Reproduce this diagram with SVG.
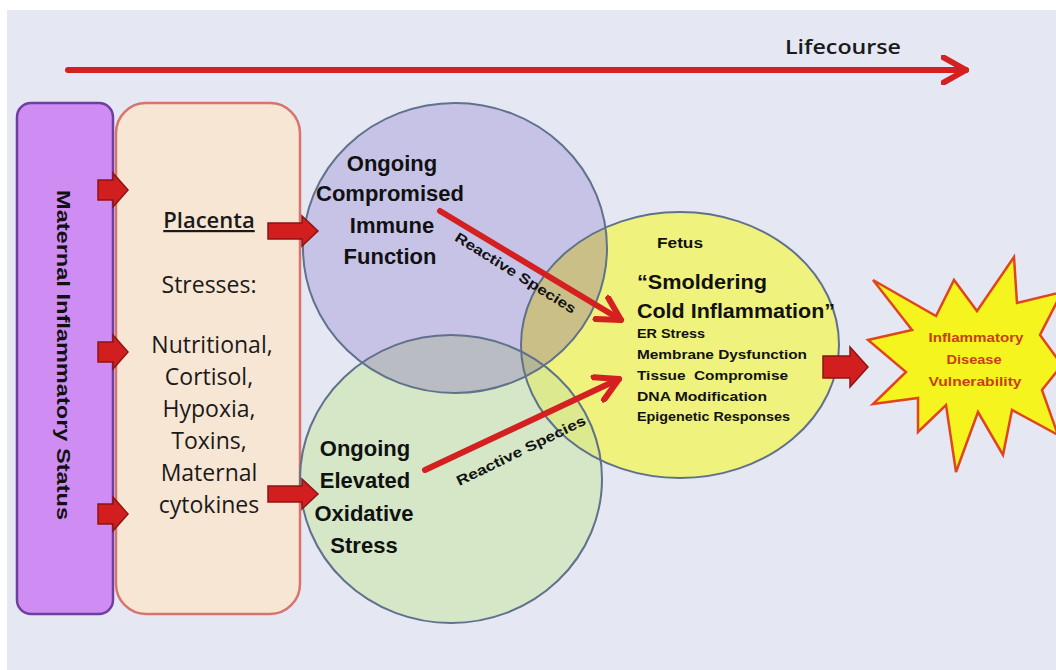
<svg xmlns="http://www.w3.org/2000/svg" width="1056" height="670" viewBox="0 0 1056 670">
<style>
.t{font-family:"Open Sans","Liberation Sans",sans-serif;fill:#1a1a1a}
.b{font-family:"Liberation Sans","Open Sans",sans-serif;font-weight:bold;fill:#111}
.blk{fill:#d21e1e;stroke:#8c1515;stroke-width:1.5}
.ring{fill:none;stroke:#60718c;stroke-width:2}
.red{stroke:#d42020;stroke-width:6;fill:none;stroke-linecap:round}
.star{font-family:"Liberation Sans",sans-serif;font-weight:bold;fill:#c8401a;font-size:12px}
</style>
<defs>
<ellipse id="eP" cx="455" cy="248" rx="152" ry="145"/>
<ellipse id="eG" cx="451" cy="479" rx="151" ry="144"/>
<ellipse id="eY" cx="680" cy="345" rx="159" ry="133"/>
<clipPath id="cP"><use href="#eP"/></clipPath>
<clipPath id="cG"><use href="#eG"/></clipPath>
<clipPath id="cY"><use href="#eY"/></clipPath>
<path id="sa" d="M0,-10 H15 V-17 L30,0 L15,17 V10 H0 Z"/>
<path id="la" d="M0,-8 H34 V-15 L50,0 L34,15 V8 H0 Z"/>
<marker id="chev" viewBox="0 0 12 12" refX="10" refY="6" markerWidth="5" markerHeight="5" orient="auto" markerUnits="strokeWidth">
<path d="M1,1 L10,6 L1,11" fill="none" stroke="#d42020" stroke-width="2.4" stroke-linecap="round" stroke-linejoin="round"/>
</marker>
</defs>
<rect x="0" y="0" width="1056" height="670" fill="#ffffff"/>
<rect x="7" y="10" width="1049" height="660" fill="#e5e8f3"/>

<g id="lifecourse">
<line x1="68" y1="70" x2="966" y2="70" class="red" marker-end="url(#chev)"/>
<text x="843" y="54" class="t" font-size="19" text-anchor="middle" font-weight="600" textLength="116" lengthAdjust="spacingAndGlyphs">Lifecourse</text>
</g>

<g id="maternal">
<rect x="17" y="103" width="96" height="511" rx="14" fill="#cf8df3" stroke="#6e3f9e" stroke-width="2.5"/>
<text transform="translate(57,355) rotate(90)" class="b" font-size="18" text-anchor="middle" textLength="330" lengthAdjust="spacingAndGlyphs">Maternal Inflammatory Status</text>
</g>

<g id="placenta">
<rect x="116" y="103" width="184" height="511" rx="30" fill="#f8e6d4" stroke="#d7746e" stroke-width="2.5"/>
<g class="t" font-size="23" text-anchor="middle">
<text x="209" y="228" text-decoration="underline" font-size="22" font-weight="600">Placenta</text>
<text x="209" y="293">Stresses:</text>
<text x="212" y="353">Nutritional,</text>
<text x="209" y="385">Cortisol,</text>
<text x="209" y="417">Hypoxia,</text>
<text x="209" y="449">Toxins,</text>
<text x="209" y="481">Maternal</text>
<text x="209" y="513">cytokines</text>
</g>
</g>

<g id="immune"><use href="#eP" fill="#c7c3e7"/></g>
<g id="oxidative"><use href="#eG" fill="#d5e7c7"/></g>
<g id="fetus"><use href="#eY" fill="#eff27c"/></g>
<g id="overlaps">
<g clip-path="url(#cY)"><use href="#eP" fill="#cbbf88"/></g>
<g clip-path="url(#cP)"><use href="#eG" fill="#b9bcc2"/></g>
<g clip-path="url(#cY)"><use href="#eG" fill="#dde98f"/></g>
<g clip-path="url(#cY)"><g clip-path="url(#cP)"><use href="#eG" fill="#b4b795"/></g></g>
</g>
<g id="rings">
<use href="#eP" class="ring"/>
<use href="#eG" class="ring"/>
<use href="#eY" class="ring"/>
</g>

<g id="immune-text" class="b" font-size="22" text-anchor="middle">
<text x="392" y="171">Ongoing</text>
<text x="390" y="201">Compromised</text>
<text x="392" y="233">Immune</text>
<text x="390" y="264">Function</text>
</g>
<g id="oxidative-text" class="b" font-size="22" text-anchor="middle">
<text x="365" y="456">Ongoing</text>
<text x="365" y="488">Elevated</text>
<text x="364" y="521">Oxidative</text>
<text x="364" y="553">Stress</text>
</g>
<g id="fetus-text" class="b">
<text x="657" y="248" font-size="14" textLength="46" lengthAdjust="spacingAndGlyphs">Fetus</text>
<text x="637" y="289" font-size="20" textLength="130" lengthAdjust="spacingAndGlyphs">“Smoldering</text>
<text x="637" y="318" font-size="20" textLength="198" lengthAdjust="spacingAndGlyphs">Cold Inflammation”</text>
<g font-size="13">
<text x="637" y="338" textLength="68" lengthAdjust="spacingAndGlyphs">ER Stress</text>
<text x="637" y="359" textLength="170" lengthAdjust="spacingAndGlyphs">Membrane Dysfunction</text>
<text x="637" y="380" textLength="151" lengthAdjust="spacingAndGlyphs" xml:space="preserve">Tissue  Compromise</text>
<text x="637" y="401" textLength="130" lengthAdjust="spacingAndGlyphs">DNA Modification</text>
<text x="637" y="421" textLength="153" lengthAdjust="spacingAndGlyphs">Epigenetic Responses</text>
</g>
</g>

<g id="vulnerability">
<polygon points="873,280 936,316 954,280 977,311 1014,257 1017,303 1062,292 1040,335 1062,365 1042,390 1058,435 1012,410 1003,455 978,412 956,472 946,405 918,432 918,398 873,404 906,372 868,340 912,330" fill="#f6f41e" stroke="#e0461e" stroke-width="2.5" stroke-linejoin="miter"/>
<text x="976" y="342" class="star" text-anchor="middle" textLength="95" lengthAdjust="spacingAndGlyphs">Inflammatory</text>
<text x="974" y="364" class="star" text-anchor="middle" textLength="55" lengthAdjust="spacingAndGlyphs">Disease</text>
<text x="975" y="386" class="star" text-anchor="middle" textLength="93" lengthAdjust="spacingAndGlyphs">Vulnerability</text>
</g>

<g id="connectors">
<use href="#sa" class="blk" x="98" y="190"/>
<use href="#sa" class="blk" x="98" y="352"/>
<use href="#sa" class="blk" x="98" y="514"/>
<use href="#la" class="blk" x="268" y="231"/>
<use href="#la" class="blk" x="268" y="494"/>
<path d="M823,356 H850 V347 L868,367 L850,387 V378 H823 Z" class="blk"/>
<line x1="440" y1="211" x2="621" y2="320" class="red" marker-end="url(#chev)"/>
<line x1="425" y1="470" x2="619" y2="379" class="red" marker-end="url(#chev)"/>
<text transform="translate(513,277) rotate(32)" class="b" font-size="14" text-anchor="middle" textLength="140" lengthAdjust="spacingAndGlyphs">Reactive Species</text>
<text transform="translate(523,455) rotate(-26)" class="b" font-size="14" text-anchor="middle" textLength="142" lengthAdjust="spacingAndGlyphs">Reactive Species</text>
</g>
</svg>
